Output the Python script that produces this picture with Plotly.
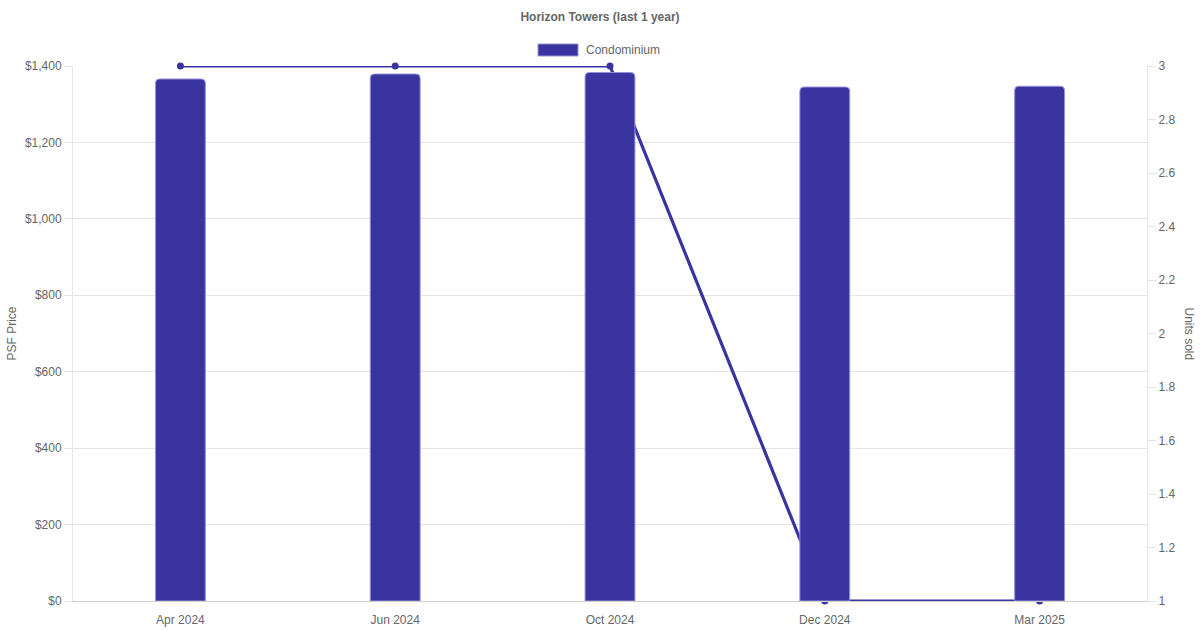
import plotly.graph_objects as go

months = ["Apr 2024", "Jun 2024", "Oct 2024", "Dec 2024", "Mar 2025"]
psf_price = [1366, 1379, 1383, 1345, 1347]
units_sold = [3, 3, 3, 1, 1]
psf_ticks = [0, 200, 400, 600, 800, 1000, 1200, 1400]
psf_tick_labels = ["$0", "$200", "$400", "$600", "$800", "$1,000", "$1,200", "$1,400"]

BAR = "rgb(57,52,160)"
GRID = "#e5e5e5"
TXT = "#666666"
FONT = "Liberation Sans, Arial, sans-serif"

fig = go.Figure()
# Line (units sold) lives on the base subplot so that the bars draw over it
fig.add_trace(go.Scatter(
    x=months, y=units_sold, name="Units sold", yaxis="y",
    mode="lines+markers", line=dict(color=BAR, width=3.2),
    marker=dict(color=BAR, size=7), cliponaxis=False, showlegend=False,
))
fig.add_trace(go.Bar(
    x=months, y=psf_price, name="Condominium", yaxis="y2",
    marker=dict(color=BAR, line=dict(color="rgba(150,146,215,1)", width=1)),
    width=0.232, showlegend=False, hoverinfo="x+y",
))

fig.update_layout(
    width=1200, height=630,
    margin=dict(l=73, r=53, t=66, b=29, autoexpand=False),
    paper_bgcolor="white", plot_bgcolor="white",
    font=dict(family=FONT, size=12, color=TXT),
    barcornerradius=4,
    title=dict(text="<b>Horizon Towers (last 1 year)</b>", x=0.5, xanchor="center",
               y=1 - 17 / 630, yanchor="middle", font=dict(size=12, color=TXT)),
    xaxis=dict(type="category", showgrid=False, showline=True, linecolor="#d0d0d0",
               linewidth=1, ticks="outside", ticklen=8, tickcolor="rgba(0,0,0,0)",
               automargin=False,
               tickfont=dict(size=12, color=TXT), zeroline=False),
    yaxis2=dict(range=[0, 1400], tickvals=psf_ticks, ticktext=psf_tick_labels,
                overlaying="y", side="left",
                showgrid=True, gridcolor=GRID, gridwidth=1, zeroline=False,
                showline=True, linecolor=GRID, ticks="outside", ticklen=8,
                automargin=False,
                tickcolor=GRID, tickfont=dict(size=12, color=TXT)),
    yaxis=dict(range=[1, 3], dtick=0.2, side="right",
               showgrid=False, zeroline=False, showline=True, linecolor=GRID,
               ticks="outside", ticklen=8, tickcolor=GRID, automargin=False,
               tickfont=dict(size=12, color=TXT)),
    shapes=[
        dict(type="rect", xref="paper", yref="paper",
             x0=(538 - 73) / 1074, x1=(578 - 73) / 1074,
             y0=(601 - 56) / 535, y1=(601 - 44) / 535,
             fillcolor=BAR, line=dict(color="rgba(150,146,215,1)", width=1)),
    ],
    annotations=[
        dict(text="Condominium", xref="paper", yref="paper",
             x=(584 - 73) / 1074, y=(601 - 50) / 535, xanchor="left", yanchor="middle",
             showarrow=False, font=dict(size=12, color=TXT)),
        dict(text="PSF Price", xref="paper", yref="paper", x=-62 / 1074, y=0.5,
             xanchor="center", yanchor="middle", textangle=-90, showarrow=False,
             font=dict(size=12, color=TXT)),
        dict(text="Units sold", xref="paper", yref="paper", x=1 + 42 / 1074, y=0.5,
             xanchor="center", yanchor="middle", textangle=90, showarrow=False,
             font=dict(size=12, color=TXT)),
    ],
)

fig.write_html("out.html", config={"displayModeBar": False},
               post_script="document.body.style.margin='0';document.body.style.overflow='hidden';")
